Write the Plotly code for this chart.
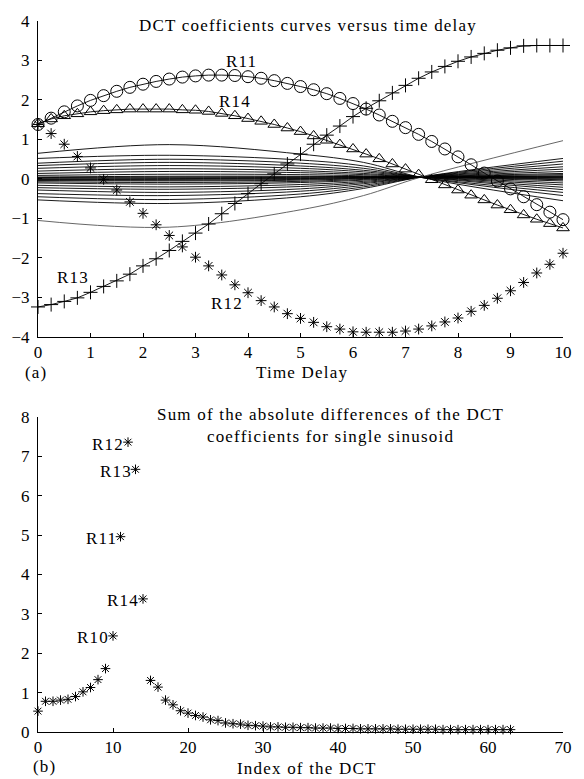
import plotly.graph_objects as go

SERIF = "Liberation Serif"

# ---------------- (a) DCT coefficient curves versus time delay ----------------
time_delay = [0.0, 0.25, 0.5, 0.75, 1.0, 1.25, 1.5, 1.75, 2.0, 2.25, 2.5, 2.75, 3.0, 3.25,
              3.5, 3.75, 4.0, 4.25, 4.5, 4.75, 5.0, 5.25, 5.5, 5.75, 6.0, 6.25, 6.5, 6.75,
              7.0, 7.25, 7.5, 7.75, 8.0, 8.25, 8.5, 8.75, 9.0, 9.25, 9.5, 9.75, 10.0]

r11 = [1.38, 1.54, 1.70, 1.85, 1.99, 2.11, 2.22, 2.32, 2.40, 2.47, 2.53, 2.58, 2.61, 2.63,
       2.63, 2.62, 2.59, 2.55, 2.49, 2.42, 2.34, 2.26, 2.16, 2.04, 1.91, 1.77, 1.62, 1.46,
       1.30, 1.13, 0.95, 0.76, 0.56, 0.36, 0.15, -0.05, -0.25, -0.45, -0.65, -0.84, -1.03]

r14 = [1.40, 1.52, 1.60, 1.65, 1.70, 1.73, 1.75, 1.77, 1.77, 1.77, 1.77, 1.75, 1.74, 1.71,
       1.66, 1.60, 1.53, 1.46, 1.38, 1.29, 1.20, 1.09, 0.98, 0.87, 0.76, 0.63, 0.51, 0.38,
       0.25, 0.11, -0.02, -0.15, -0.28, -0.41, -0.53, -0.66, -0.78, -0.91, -1.02, -1.13, -1.24]

r13 = [-3.24, -3.18, -3.10, -3.01, -2.87, -2.72, -2.58, -2.41, -2.20, -2.02, -1.81, -1.58,
       -1.37, -1.14, -0.88, -0.62, -0.37, -0.12, 0.13, 0.38, 0.63, 0.88, 1.11, 1.34, 1.58,
       1.79, 1.98, 2.18, 2.37, 2.55, 2.71, 2.85, 2.98, 3.09, 3.18, 3.26, 3.32, 3.37, 3.38,
       3.38, 3.38]

r12 = [1.38, 1.15, 0.88, 0.57, 0.28, -0.01, -0.28, -0.58, -0.87, -1.16, -1.43, -1.72, -1.98,
       -2.20, -2.43, -2.68, -2.88, -3.08, -3.24, -3.41, -3.53, -3.63, -3.74, -3.80, -3.87,
       -3.88, -3.88, -3.88, -3.85, -3.80, -3.72, -3.62, -3.52, -3.35, -3.20, -3.02, -2.83,
       -2.62, -2.38, -2.16, -1.88]

# remaining (small) coefficients, read at a few delays
thin_x = [0, 2.5, 5, 6.2, 7.3, 10]
thin_curves = [
    [0.65, 0.87, 0.63, 0.42, 0.04, -0.55],
    [0.52, 0.60, 0.48, 0.33, 0.04, -0.42],
    [0.40, 0.50, 0.40, 0.27, 0.04, -0.34],
    [0.34, 0.42, 0.33, 0.22, 0.05, -0.27],
    [0.27, 0.34, 0.27, 0.18, 0.05, -0.21],
    [0.20, 0.26, 0.21, 0.14, 0.05, -0.15],
    [0.14, 0.19, 0.16, 0.11, 0.05, -0.10],
    [0.09, 0.12, 0.11, 0.08, 0.05, -0.05],
    [0.05, 0.07, 0.07, 0.06, 0.05, -0.02],
    [0.035, 0.05, 0.055, 0.055, 0.05, 0.00],
    [0.02, 0.03, 0.04, 0.05, 0.05, 0.02],
    [0.00, 0.01, 0.02, 0.04, 0.05, 0.035],
    [-0.01, -0.01, 0.01, 0.03, 0.05, 0.05],
    [-0.025, -0.03, -0.01, 0.02, 0.05, 0.065],
    [-0.04, -0.05, -0.03, 0.01, 0.05, 0.08],
    [-0.07, -0.09, -0.06, -0.01, 0.05, 0.11],
    [-0.10, -0.13, -0.09, -0.03, 0.05, 0.14],
    [-0.16, -0.20, -0.14, -0.06, 0.05, 0.19],
    [-0.22, -0.26, -0.19, -0.09, 0.05, 0.25],
    [-0.28, -0.34, -0.25, -0.12, 0.05, 0.31],
    [-0.37, -0.42, -0.31, -0.16, 0.05, 0.38],
    [-0.45, -0.52, -0.38, -0.20, 0.05, 0.45],
    [-0.53, -0.62, -0.45, -0.24, 0.05, 0.52],
    [-1.05, -1.22, -0.78, -0.42, 0.05, 0.97],
]
thin_colors = ["black"] * (len(thin_curves) - 1) + ["#555555"]

curve_labels_a = ["R11", "R14", "R13", "R12"]
curve_label_x = [3.88, 3.76, 0.66, 3.60]
curve_label_y = [2.97, 1.97, -2.49, -3.16]

# ---------------- (b) sum of absolute differences ----------------
dct_index = list(range(64))
dct_sum = [0.53, 0.78, 0.78, 0.81, 0.83, 0.90, 1.02, 1.13, 1.33, 1.61,
           2.44, 4.96, 7.36, 6.67, 3.38, 1.31, 1.14, 0.81, 0.69, 0.54,
           0.48, 0.42, 0.38, 0.31, 0.29, 0.23, 0.21, 0.20, 0.17, 0.16,
           0.15, 0.13, 0.13, 0.12, 0.12, 0.11, 0.11, 0.10, 0.10, 0.10,
           0.09, 0.09, 0.09, 0.08, 0.08, 0.08, 0.08, 0.08, 0.07, 0.07,
           0.07, 0.07, 0.07, 0.07, 0.06, 0.06, 0.06, 0.06, 0.06, 0.06,
           0.06, 0.06, 0.06, 0.06]
peak_labels = ["R10", "R11", "R12", "R13", "R14"]
peak_index = [10, 11, 12, 13, 14]

x_ticks_a = [0, 1, 2, 3, 4, 5, 6, 7, 8, 9, 10]
y_ticks_a = [-4, -3, -2, -1, 0, 1, 2, 3, 4]
x_ticks_b = [0, 10, 20, 30, 40, 50, 60, 70]
y_ticks_b = [0, 1, 2, 3, 4, 5, 6, 7, 8]


def sp(t, ls=1.2):
    return f'<span style="letter-spacing:{ls}px">{t}</span>'


fig = go.Figure()

for ys, col in zip(thin_curves, thin_colors):
    fig.add_trace(go.Scatter(x=thin_x, y=ys, mode="lines", line=dict(color=col, width=0.9, shape="spline", smoothing=1.0),
                             xaxis="x", yaxis="y", showlegend=False, hoverinfo="skip"))

fig.add_trace(go.Scatter(x=time_delay, y=r11, mode="lines+markers",
                         line=dict(color="black", width=0.9),
                         marker=dict(symbol="circle-open", size=12, color="black", line=dict(width=1)),
                         xaxis="x", yaxis="y", showlegend=False, cliponaxis=False))
fig.add_trace(go.Scatter(x=time_delay, y=r14, mode="lines+markers",
                         line=dict(color="black", width=0.9),
                         marker=dict(symbol="triangle-up-open", size=11, color="black", line=dict(width=1)),
                         xaxis="x", yaxis="y", showlegend=False, cliponaxis=False))
fig.add_trace(go.Scatter(x=time_delay, y=r13, mode="lines+markers",
                         line=dict(color="black", width=0.9),
                         marker=dict(symbol="cross-thin-open", size=10, color="black", line=dict(width=1, color="black")),
                         xaxis="x", yaxis="y", showlegend=False, cliponaxis=False))
fig.add_trace(go.Scatter(x=time_delay, y=r12, mode="markers",
                         marker=dict(symbol="asterisk-open", size=9, color="black", line=dict(width=1, color="black")),
                         xaxis="x", yaxis="y", showlegend=False, cliponaxis=False))

fig.add_trace(go.Scatter(x=dct_index, y=dct_sum, mode="markers",
                         marker=dict(symbol="asterisk-open", size=8, color="black", line=dict(width=1, color="black")),
                         xaxis="x2", yaxis="y2", showlegend=False, cliponaxis=False))

axis_common = dict(showline=True, linecolor="black", linewidth=1, ticks="inside", ticklen=4,
                   tickcolor="black", tickwidth=1, showgrid=False, zeroline=False, mirror=False,
                   tickfont=dict(family=SERIF, size=17, color="black"))

fig.update_layout(
    width=584, height=779,
    margin=dict(l=35, r=19, t=12, b=47),
    paper_bgcolor="white", plot_bgcolor="white",
    font=dict(family=SERIF, color="black", size=17),
    xaxis=dict(domain=[0, 1], range=[0, 10], tickvals=x_ticks_a, anchor="y", **axis_common),
    yaxis=dict(domain=[0.5556, 1], range=[-4, 4], tickvals=y_ticks_a, anchor="x",
               ticklabelstandoff=4, **axis_common),
    xaxis2=dict(domain=[0, 1], range=[0, 70], tickvals=x_ticks_b, anchor="y2", **axis_common),
    yaxis2=dict(domain=[0, 0.4431], range=[0, 8], tickvals=y_ticks_b, anchor="x2",
                ticklabelstandoff=4, **axis_common),
)

ann = []
for t, x, y in zip(curve_labels_a, curve_label_x, curve_label_y):
    ann.append(dict(x=x, y=y, xref="x", yref="y", text=sp(t), showarrow=False,
                    font=dict(family=SERIF, size=17, color="black"), xanchor="center", yanchor="middle"))
for t, i in zip(peak_labels, peak_index):
    ann.append(dict(x=i, y=dct_sum[i], xref="x2", yref="y2", text=sp(t), showarrow=False,
                    font=dict(family=SERIF, size=17, color="black"), xanchor="right", yanchor="middle",
                    xshift=-2, yshift=-2))

ann += [
    dict(x=0.514, y=0.9935, xref="paper", yref="paper", text=sp("DCT coefficients curves versus time delay"),
         showarrow=False, xanchor="center", yanchor="middle", font=dict(family=SERIF, size=17, color="black")),
    dict(x=0.557, y=0.431, xref="paper", yref="paper",
         text=sp("Sum of the absolute differences of the DCT") + "<br>" + sp("coefficients for single sinusoid"),
         showarrow=False, xanchor="center", yanchor="middle", align="center",
         font=dict(family=SERIF, size=17, color="black")),
    dict(x=0.503, y=0.5056, xref="paper", yref="paper", text=sp("Time Delay"),
         showarrow=False, xanchor="center", yanchor="middle", font=dict(family=SERIF, size=17, color="black")),
    dict(x=-0.004, y=0.5056, xref="paper", yref="paper", text=sp("(a)"),
         showarrow=False, xanchor="center", yanchor="middle", font=dict(family=SERIF, size=17, color="black")),
    dict(x=0.513, y=-0.051, xref="paper", yref="paper", text=sp("Index of the DCT"),
         showarrow=False, xanchor="center", yanchor="middle", font=dict(family=SERIF, size=17, color="black")),
    dict(x=0.0126, y=-0.049, xref="paper", yref="paper", text=sp("(b)"),
         showarrow=False, xanchor="center", yanchor="middle", font=dict(family=SERIF, size=17, color="black")),
]
fig.update_layout(annotations=ann)

fig.write_html("out.html", config={"displayModeBar": False},
               post_script="document.body.style.margin='0';document.body.style.overflow='hidden';")
